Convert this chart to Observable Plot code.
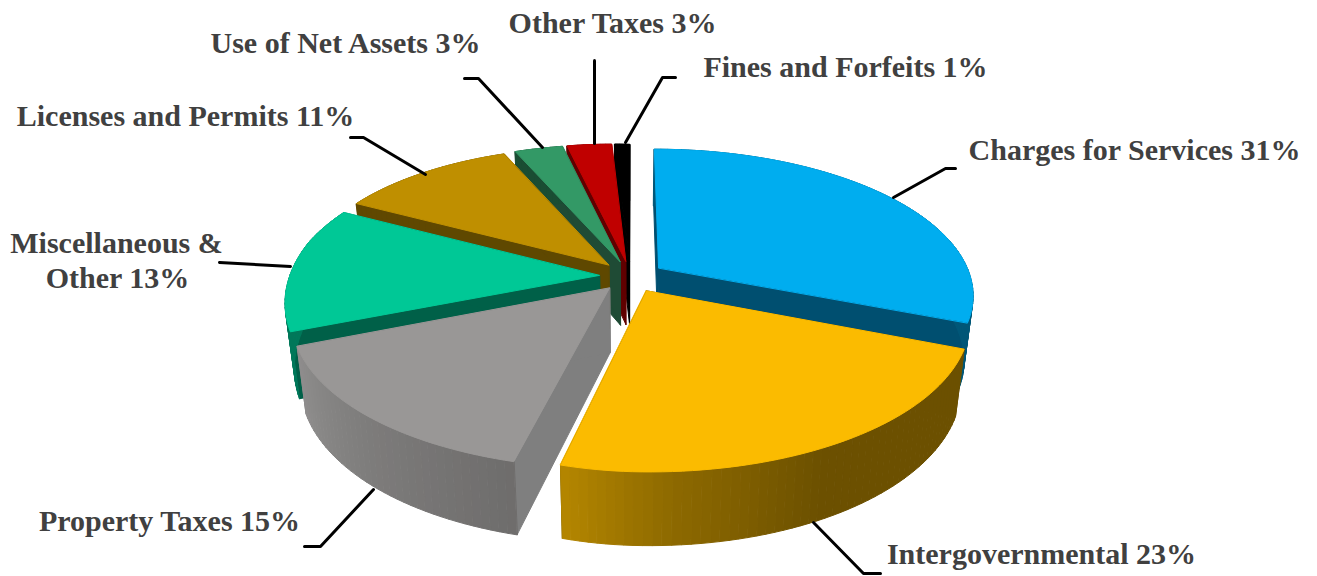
<!DOCTYPE html>
<html>
<head>
<meta charset="utf-8">
<script src="https://cdn.jsdelivr.net/npm/d3@7"></script>
<script src="https://cdn.jsdelivr.net/npm/@observablehq/plot@0.6"></script>
<style>
  html, body { margin: 0; padding: 0; background: #fff; }
  svg { display: block; }
</style>
</head>
<body>
<div id="chart"></div>
<script>
// Revenue sources, clockwise from twelve o'clock
const sources = ["Charges for Services", "Intergovernmental", "Property Taxes", "Miscellaneous & Other",
  "Licenses and Permits", "Use of Net Assets", "Other Taxes", "Fines and Forfeits"];
const shares = [31, 23, 15, 13, 11, 3, 3, 1];
const topColors = ["#00adef", "#fbbb00", "#999796", "#00c896", "#bf8f00", "#339966", "#c00000", "#000000"];
const edgeColors = ["#004f70", "#6b5300", "#7f7f7f", "#006048", "#5f4800", "#1f4b35", "#600000", "#000000"];

// Brightness of each rim along its arc: [angle fraction, factor on the top colour]
const rimStops = [
  [[0, 0.5], [1, 0.5]],
  [[0, 0.43], [0.5, 0.43], [0.78, 0.56], [1, 0.72]],
  [[0, 0.72], [0.5, 0.82], [1, 0.94]],
  [[0, 0.6], [1, 0.6]],
  [[0, 0.5], [1, 0.5]],
  [[0, 0.5], [1, 0.5]],
  [[0, 0.5], [1, 0.5]],
  [[0, 1], [1, 1]]
];

// Perspective view of the pie; the lean terms pull the left half in towards the middle
const view = {cx: 630, cy: 276, A: 312, B: 142.8, depth: 64, persp: 0.18, perspDepth: 0.12, taper: 0.027,
  explode: 0.11, leanX: 7, leanXSpan: 80, leanY: 7, leanYSpan: 280};

const clamp01 = v => Math.max(0, Math.min(1, v));

function project(X, Z, level) {
  const w = 1 - view.persp * Z;
  const dx = view.A * X / (w * (1 + view.taper * level));
  return {
    x: view.cx + dx + view.leanX * clamp01(-dx / view.leanXSpan),
    y: view.cy + view.B * Z / w + view.depth * level / (1 - view.perspDepth * Z)
      - view.leanY * clamp01(-dx / view.leanYSpan) * clamp01((0.4 - Z) / 0.6)
  };
}

const total = d3.sum(shares);
const cumulative = d3.cumsum(shares);
let faceId = 0;

// Every slice yields its faces in painter's order: radial walls, rim wall, top
function sliceFaces(i) {
  const faces = [];
  const addFace = (points, color) => {
    const id = faceId++;
    for (const p of points) faces.push({...p, id, color});
  };
  const a0 = 2 * Math.PI * (cumulative[i] - shares[i]) / total;
  const a1 = 2 * Math.PI * cumulative[i] / total;
  const mid = (a0 + a1) / 2;
  const ox = view.explode * Math.sin(mid);
  const oz = -view.explode * Math.cos(mid);
  const rim = (a, level) => project(ox + Math.sin(a), oz - Math.cos(a), level);
  const apex = level => project(ox, oz, level);

  addFace([apex(0), rim(a0, 0), rim(a0, 1), apex(1)], edgeColors[i]);
  addFace([apex(0), rim(a1, 0), rim(a1, 1), apex(1)], edgeColors[i]);

  const stops = rimStops[i];
  const shade = d3.scaleLinear(stops.map(s => s[0]), stops.map(s => s[1]));
  const base = d3.rgb(topColors[i]);
  const steps = Math.max(2, Math.ceil((a1 - a0) / (Math.PI / 120)));
  for (let k = 0; k < steps; ++k) {
    const t0 = a0 + (a1 - a0) * k / steps;
    const t1 = a0 + (a1 - a0) * (k + 1) / steps;
    const f = shade((k + 0.5) / steps);
    const c = d3.rgb(base.r * f, base.g * f, base.b * f).formatHex();
    addFace([rim(t0, 0), rim(t1, 0), rim(t1, 1), rim(t0, 1)], c);
  }

  const arc = d3.range(steps + 1).map(k => rim(a0 + (a1 - a0) * k / steps, 0));
  addFace([apex(0), ...arc], topColors[i]);
  return faces;
}

// Back slices are painted before the front ones
const paintOrder = [7, 6, 5, 4, 0, 3, 2, 1];
const ordered = paintOrder.flatMap(sliceFaces);

// Callouts: text with its anchor, and the leader line that ties it to a slice
const labelFont = {fontFamily: "Liberation Serif", fontWeight: "bold", fontSize: 30, fill: "#404040"};
const labels = [
  {text: "Charges for Services 31%", x: 1134, y: 150},
  {text: "Intergovernmental 23%", x: 1041, y: 554},
  {text: "Property Taxes 15%", x: 169, y: 521},
  {text: "Miscellaneous &", x: 116, y: 243},
  {text: "Other 13%", x: 117, y: 278},
  {text: "Licenses and Permits 11%", x: 185, y: 116},
  {text: "Use of Net Assets 3%", x: 345, y: 43},
  {text: "Other Taxes 3%", x: 612, y: 23},
  {text: "Fines and Forfeits 1%", x: 845, y: 67}
];
const leaders = [
  {id: 0, path: [[893, 197], [945, 168], [955, 168]]},
  {id: 1, path: [[813, 522], [863, 573], [880, 573]]},
  {id: 2, path: [[373, 489], [320, 546], [304, 546]]},
  {id: 3, path: [[290, 266], [219, 262]]},
  {id: 4, path: [[425, 174], [363, 137], [350, 137]]},
  {id: 5, path: [[542, 147], [478, 78], [464, 78]]},
  {id: 6, path: [[594, 143], [594, 60]]},
  {id: 7, path: [[625, 142], [662, 77], [675, 77]]}
].flatMap(l => l.path.map(([x, y]) => ({id: l.id, x, y})));

const chart = Plot.plot({
  width: 1317,
  height: 576,
  margin: 0,
  x: {domain: [0, 1317], range: [0, 1317], axis: null},
  y: {domain: [0, 576], range: [0, 576], axis: null},
  color: {type: "identity"},
  marks: [
    Plot.line(ordered, {x: "x", y: "y", z: "id", fill: "color", stroke: "color", strokeWidth: 1, curve: "linear-closed"}),
    Plot.line(leaders, {x: "x", y: "y", z: "id", stroke: "#000", strokeWidth: 3, strokeLinejoin: "round", curve: "linear"}),
    Plot.text(labels, {x: "x", y: "y", text: "text", textAnchor: "middle", ...labelFont})
  ]
});
document.getElementById("chart").append(chart);
</script>
</body>
</html>
